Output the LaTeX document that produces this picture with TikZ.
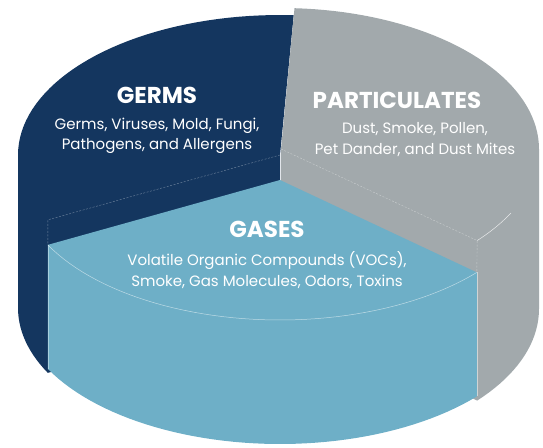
\documentclass[tikz,border=0pt]{standalone}
\usepackage{fontspec}
\setmainfont{Poppins}
\usetikzlibrary{positioning}

\definecolor{germnavy}{HTML}{14365F}
\definecolor{partgray}{HTML}{A2A9AC}
\definecolor{gasblue}{HTML}{6EAFC7}

\begin{document}
\begin{tikzpicture}[
    x=1pt, y=-1pt,
    title/.style={text=white, font=\fontsize{23}{25}\selectfont\bfseries, inner sep=0pt},
    desc/.style={text=white, font=\fontsize{15}{20.5}\selectfont, align=center, inner sep=0pt},
    cutline/.style={draw=white, line width=0.4pt, opacity=0.4, dash pattern=on 2pt off 1.5pt},
    rimline/.style={draw=white, line width=0.5pt, opacity=0.75}
  ]
    \useasboundingbox (0,0) rectangle (543,447);

    % corner points of the three slices
    \coordinate (germsapex) at (280,155);
    \coordinate (germscut) at ({280+262*cos(207.6)},{155-140*sin(207.6)});
    \coordinate (partapex) at (281,149);
    \coordinate (partcut) at ({281+258*cos(-40.5)},{149-141*sin(-40.5)});
    \coordinate (gasapex) at (280,180);
    \coordinate (gasleft) at ({280+262*cos(207.6)},{180-140*sin(207.6)});
    \coordinate (gasleftlow) at ({280+262*cos(207.6)},{304-140*sin(207.6)});
    \coordinate (gasright) at ({280+262*cos(318.7)},{180-140*sin(318.7)});
    \coordinate (gasrightlow) at ({280+262*cos(318.7)},{304-140*sin(318.7)});

    % germs slice
    \fill[germnavy] (germsapex)
      -- plot[domain=87:180, samples=40] ({280+262*cos(\x)},{155-140*sin(\x)})
      -- (18,308)
      -- plot[domain=180:207.6, samples=15] ({280+262*cos(\x)},{308-140*sin(\x)})
      -- (280,308) -- cycle;

    % particulates slice
    \fill[partgray] (partapex)
      -- plot[domain=87:0, samples=40] ({281+258*cos(\x)},{149-141*sin(\x)})
      -- (539,309)
      -- plot[domain=0:-40.5, samples=20] ({281+258*cos(\x)},{309-141*sin(\x)})
      -- (281,309) -- cycle;

    % gases slice
    \fill[gasblue] (gasapex) -- (gasleft) -- (gasleftlow)
      -- plot[domain=207.6:318.7, samples=50] ({280+262*cos(\x)},{304-140*sin(\x)})
      -- (gasright) -- cycle;

    % edges
    \draw[cutline] (germsapex) -- (germscut) -- (gasleft);
    \draw[cutline] (partapex) -- (partcut) -- (gasright);
    \draw[rimline] plot[domain=-27:-40.5, samples=10] ({281+258*cos(\x)},{149-141*sin(\x)});
    \draw[rimline, opacity=0.55] plot[domain=207.6:318.7, samples=50] ({280+262*cos(\x)},{180-140*sin(\x)});
    \draw[rimline, opacity=0.4] (gasleft) -- (gasleftlow);
    \draw[rimline, opacity=0.5] (gasright) -- (gasrightlow);

    % labels
    \node[title] (germs) at (157,95) {GERMS};
    \node[desc, below=14pt of germs] (germstext) {Germs, Viruses, Mold, Fungi,\\Pathogens, and Allergens};
    \node[title] (part) at (397,100) {PARTICULATES};
    \node[desc, below=14pt of part, xshift=18pt] (parttext) {Dust, Smoke, Pollen,\\Pet Dander, and Dust Mites};
    \node[title] (gases) at (267,229) {GASES};
    \node[desc, below=14pt of gases] (gastext) {Volatile Organic Compounds (VOCs),\\Smoke, Gas Molecules, Odors, Toxins};
  \end{tikzpicture}
\end{document}
